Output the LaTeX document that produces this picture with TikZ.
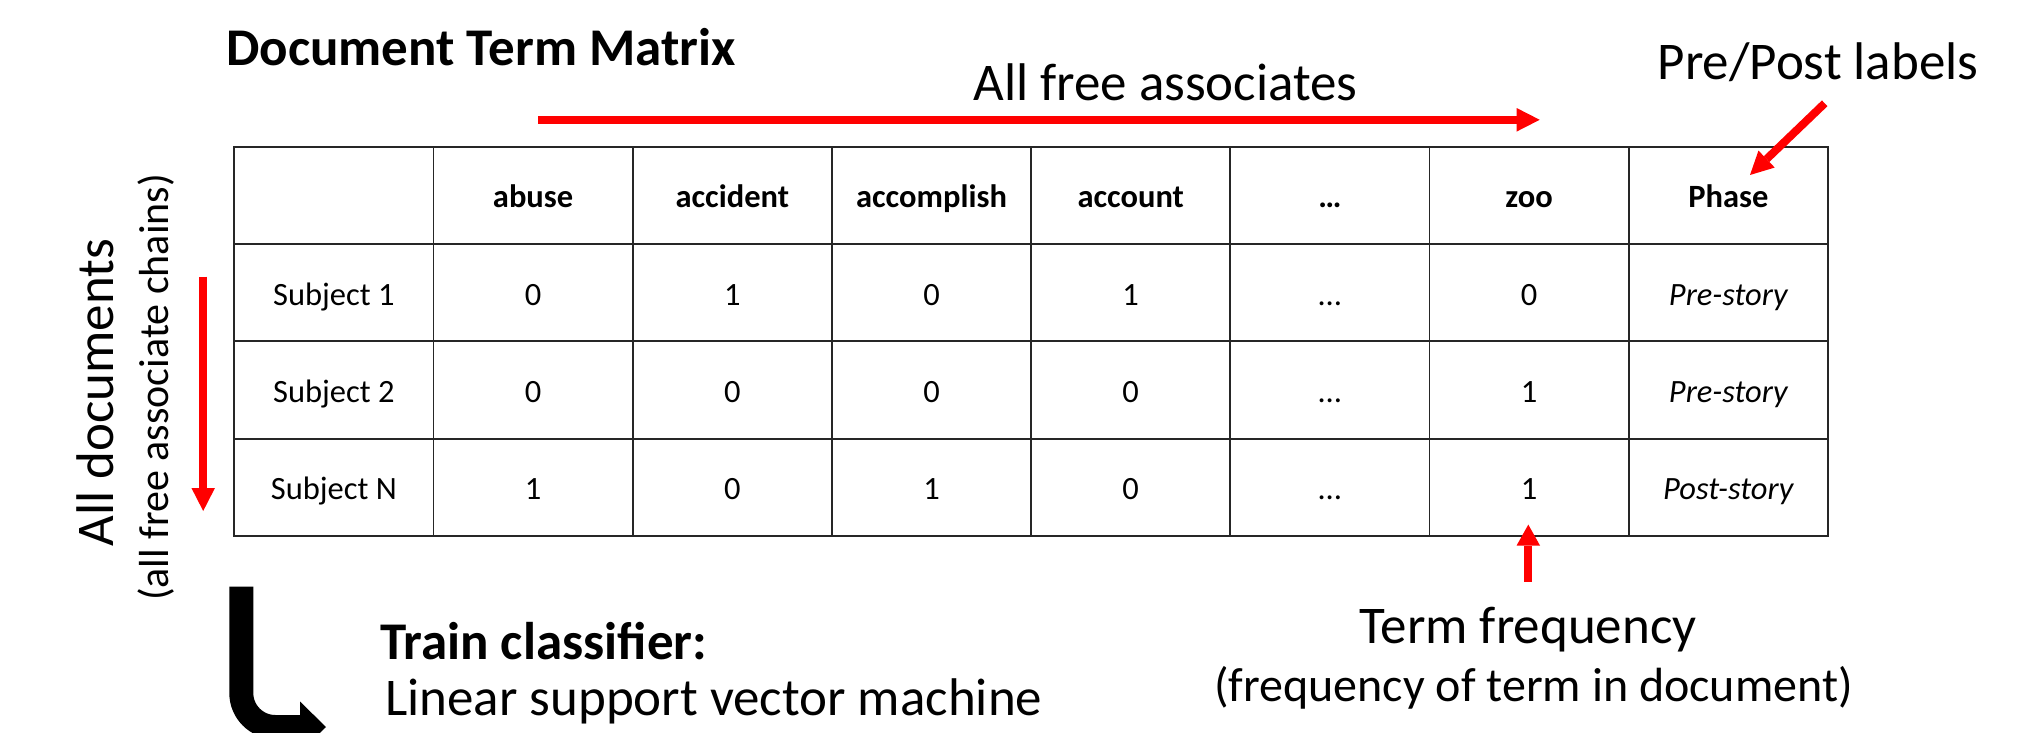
\documentclass[tikz,border=0pt]{standalone}
\usepackage{fontspec}
\setmainfont{Carlito}
\usetikzlibrary{arrows.meta}
\begin{document}
\begin{tikzpicture}[x=1pt,y=-1pt,
  redarrow/.style={draw=red, line width=8pt, -{Triangle[width=23.5pt,length=23pt,line width=0pt]}},
  blackarrow/.style={draw=black, line width=24pt, rounded corners=34pt, -{Triangle[width=51pt,length=26pt,line width=0pt]}},
  hdr/.style={font=\fontsize{32.5}{39}\selectfont\bfseries, anchor=base, inner sep=0pt},
  cell/.style={font=\fontsize{32.5}{39}\selectfont, anchor=base, inner sep=0pt},
  icell/.style={font=\fontsize{32.5}{39}\selectfont\itshape, anchor=base, inner sep=0pt},
  big/.style={font=\fontsize{53}{64}\selectfont, anchor=base, inner sep=0pt},
  small/.style={font=\fontsize{42}{50}\selectfont, anchor=base, inner sep=0pt},
  mid/.style={font=\fontsize{48}{58}\selectfont, anchor=base, inner sep=0pt},
  gridline/.style={draw=black!85, line width=1.8pt}]
\useasboundingbox (0,0) rectangle (2022,733);
\clip (0,0) rectangle (2022,733);

% titles
\node[big, font=\fontsize{53}{64}\selectfont\bfseries] (title) at (481,65.7) {Document Term Matrix};
\node[big] (allfree) at (1165.5,101) {All free associates};
\node[big] (prepost) at (1818,80) {Pre/Post labels};
\node[big, rotate=90] (alldocs) at (113.3,392.5) {All documents};
\node[small, rotate=90] (alldocs2) at (168.3,387.5) {(all free associate chains)};
\node[big, font=\fontsize{53}{64}\selectfont\bfseries, anchor=base west] (train) at (380,659) {Train classifier:};
\node[big, anchor=base west] (svm) at (385,715) {Linear support vector machine};
\node[big] (tf) at (1528,643.5) {Term frequency};
\node[mid] (tf2) at (1533.5,701) {(frequency of term in document)};

% table grid
\foreach \i in {1,...,7}
  \draw[gridline] ({234.3+199.2*\i},146.7) -- ({234.3+199.2*\i},535.9);
\foreach \j in {1,2,3}
  \draw[gridline] (234.3,{146.7+97.3*\j}) -- (1827.9,{146.7+97.3*\j});
\draw[gridline, line width=2.2pt] (234.3,146.7) rectangle (1827.9,535.9);

% header
\foreach \t [count=\i] in {abuse,accident,accomplish,account,…,zoo,Phase}
  \node[hdr] (h\i) at ({234.3+199.2*(\i+0.5)},207.9) {\t};
% rows
\foreach \t [count=\i from 0] in {Subject 1,0,1,0,1,…,0}
  \node[cell] (a\i) at ({234.3+199.2*(\i+0.5)},305.2) {\t};
\foreach \t [count=\i from 0] in {Subject 2,0,0,0,0,…,1}
  \node[cell] (b\i) at ({234.3+199.2*(\i+0.5)},402.5) {\t};
\foreach \t [count=\i from 0] in {Subject N,1,0,1,0,…,1}
  \node[cell] (c\i) at ({234.3+199.2*(\i+0.5)},499.8) {\t};
\node[icell] (a7) at (1728.3,305.2) {Pre-story};
\node[icell] (b7) at (1728.3,402.5) {Pre-story};
\node[icell] (c7) at (1728.3,499.8) {Post-story};

% arrows
\coordinate (ha1) at (538.3,119.8);
\coordinate (ha2) at (1539.7,119.8);
\draw[redarrow] (ha1) -- (ha2);
\coordinate (va1) at (203.2,276.7);
\coordinate (va2) at (203.2,511);
\draw[redarrow] (va1) -- (va2);
\coordinate (da1) at (1824.7,103.3);
\coordinate (da2) at (1750,175);
\draw[redarrow] (da1) -- (da2);
\coordinate (ua1) at (1528.3,581.7);
\coordinate (ua2) at (1528.3,524.6);
\draw[redarrow, -{Triangle[width=23.5pt,length=21pt,line width=0pt]}] (ua1) -- (ua2);
\coordinate (ba1) at (241.3,586.7);
\coordinate (ba2) at (326,727);
\draw[blackarrow] (ba1) |- (ba2);
\end{tikzpicture}
\end{document}
